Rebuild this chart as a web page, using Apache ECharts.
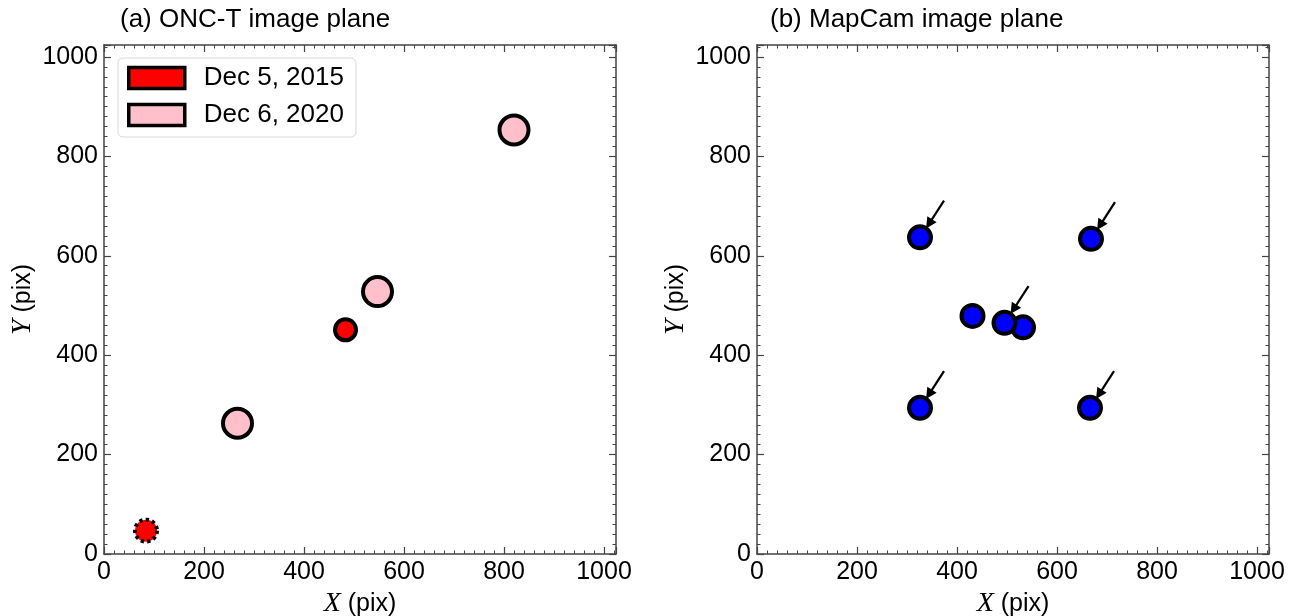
<!DOCTYPE html>
<html><head><meta charset="utf-8">
<script src="https://cdn.jsdelivr.net/npm/echarts/dist/echarts.min.js"></script>
<style>html,body{margin:0;padding:0;background:#fff}#c{width:1299px;height:616px}</style>
</head><body><div id="c"></div>
<script>
const panelTitles = ['(a) ONC-T image plane', '(b) MapCam image plane'];
const seriesNames = ['Dec 5, 2015', 'Dec 6, 2020'];
const dec2015 = [[84, 47], [483, 451]];
const dec2015Dotted = [true, false];
const dec2020 = [[267, 263], [547, 528], [820, 853]];
const mapcam = [[326, 637], [668, 634], [431, 479], [532, 456], [495, 465], [326, 294], [666, 294]];
const arrowTails = [[374, 711], [716, 708], [543, 539], [374, 368], [714, 368]];
const arrowHeads = [[344, 664], [686, 661], [513, 492], [344, 321], [684, 321]];
const tickValues = [0, 200, 400, 600, 800, 1000];
const axisMax = 1024;

const SANS = 'Liberation Sans';
const lineCol = '#444';

function axesFor(dim, gridIndex) {
  const posA = dim === 'x' ? 'bottom' : 'left';
  const posB = dim === 'x' ? 'top' : 'right';
  const base = { type: 'value', gridIndex: gridIndex, min: 0, max: axisMax, splitLine: { show: false } };
  const nameCfg = dim === 'x'
    ? { name: '{i|X} (pix)', nameLocation: 'middle', nameGap: 35 }
    : { name: '{i|Y} (pix)', nameLocation: 'middle', nameGap: 67, nameRotate: 90 };
  const nameStyle = { fontSize: 25, fontFamily: SANS, color: '#000',
    rich: { i: { fontFamily: 'Liberation Serif', fontStyle: 'italic', fontSize: 28, color: '#000' } } };
  return [
    Object.assign({}, base, nameCfg, {
      position: posA, interval: 200,
      nameTextStyle: nameStyle,
      axisLine: { show: true, onZero: false, lineStyle: { color: lineCol, width: 1.5 } },
      axisTick: { show: true, inside: true, length: 7, lineStyle: { color: lineCol, width: 1.2 } },
      axisLabel: { show: true, fontSize: 25, fontFamily: SANS, color: '#000', margin: dim === 'x' ? 6 : 6,
        formatter: v => tickValues.includes(v) ? String(v) : '' , showMaxLabel: true }
    }),
    Object.assign({}, base, {
      position: posA, interval: 20,
      axisLine: { show: false, onZero: false },
      axisTick: { show: true, inside: true, length: 3.5, lineStyle: { color: lineCol, width: 1 } },
      axisLabel: { show: false }
    }),
    Object.assign({}, base, {
      position: posB, interval: 200,
      axisLine: { show: true, onZero: false, lineStyle: { color: lineCol, width: 1.5 } },
      axisTick: { show: true, inside: true, length: 7, lineStyle: { color: lineCol, width: 1.2 } },
      axisLabel: { show: false }
    }),
    Object.assign({}, base, {
      position: posB, interval: 20,
      axisLine: { show: false, onZero: false },
      axisTick: { show: true, inside: true, length: 3.5, lineStyle: { color: lineCol, width: 1 } },
      axisLabel: { show: false }
    })
  ];
}

const option = {
  animation: false,
  backgroundColor: '#fff',
  title: [
    { text: panelTitles[0], left: 115, top: 2, textStyle: { fontSize: 26, fontWeight: 'normal', color: '#000', fontFamily: SANS } },
    { text: panelTitles[1], left: 765, top: 2, textStyle: { fontSize: 26, fontWeight: 'normal', color: '#000', fontFamily: SANS } }
  ],
  grid: [
    { left: 104, top: 45, width: 512, height: 509, containLabel: false, outerBoundsMode: 'none' },
    { left: 757, top: 45, width: 512, height: 509, containLabel: false, outerBoundsMode: 'none' }
  ],
  xAxis: axesFor('x', 0).concat(axesFor('x', 1)),
  yAxis: axesFor('y', 0).concat(axesFor('y', 1)),
  legend: {
    data: seriesNames, orient: 'vertical', left: 118, top: 58,
    icon: 'rect', itemWidth: 56, itemHeight: 21, itemGap: 11,
    padding: [7, 12, 9, 9],
    backgroundColor: '#fff', borderColor: '#d8d8d8', borderWidth: 1, borderRadius: 5,
    itemStyle: { borderColor: '#000', borderWidth: 3.5 },
    textStyle: { fontSize: 26, color: '#000', fontFamily: SANS, padding: [0, 0, 0, 14] }
  },
  series: [
    {
      name: seriesNames[0], type: 'scatter', xAxisIndex: 0, yAxisIndex: 0,
      symbol: 'circle', symbolSize: 21, z: 3,
      itemStyle: { color: '#ff0000', borderColor: '#000', borderWidth: 4, opacity: 1 },
      data: dec2015.map((p, i) => dec2015Dotted[i]
        ? { value: p, symbolSize: 22, itemStyle: { borderType: [3.2, 3.2], borderWidth: 4 } }
        : { value: p })
    },
    {
      name: seriesNames[1], type: 'scatter', xAxisIndex: 0, yAxisIndex: 0,
      symbol: 'circle', symbolSize: 29, z: 3,
      itemStyle: { color: '#ffc0cb', borderColor: '#000', borderWidth: 4, opacity: 1 },
      data: dec2020
    },
    {
      name: 'MapCam', type: 'scatter', xAxisIndex: 4, yAxisIndex: 4,
      symbol: 'circle', symbolSize: 22, z: 3,
      itemStyle: { color: '#0000ff', borderColor: '#000', borderWidth: 4, opacity: 1 },
      data: mapcam
    },
    {
      name: 'arrows', type: 'lines', coordinateSystem: 'cartesian2d', xAxisIndex: 4, yAxisIndex: 4,
      symbol: ['none', 'triangle'], symbolSize: 11, silent: true, z: 4,
      lineStyle: { color: '#000', width: 2.2, opacity: 1, curveness: 0 },
      data: arrowTails.map((t, i) => ({ coords: [t, arrowHeads[i]] }))
    }
  ]
};
echarts.init(document.getElementById('c'), null, { renderer: 'canvas' }).setOption(option);
</script>
</body></html>
